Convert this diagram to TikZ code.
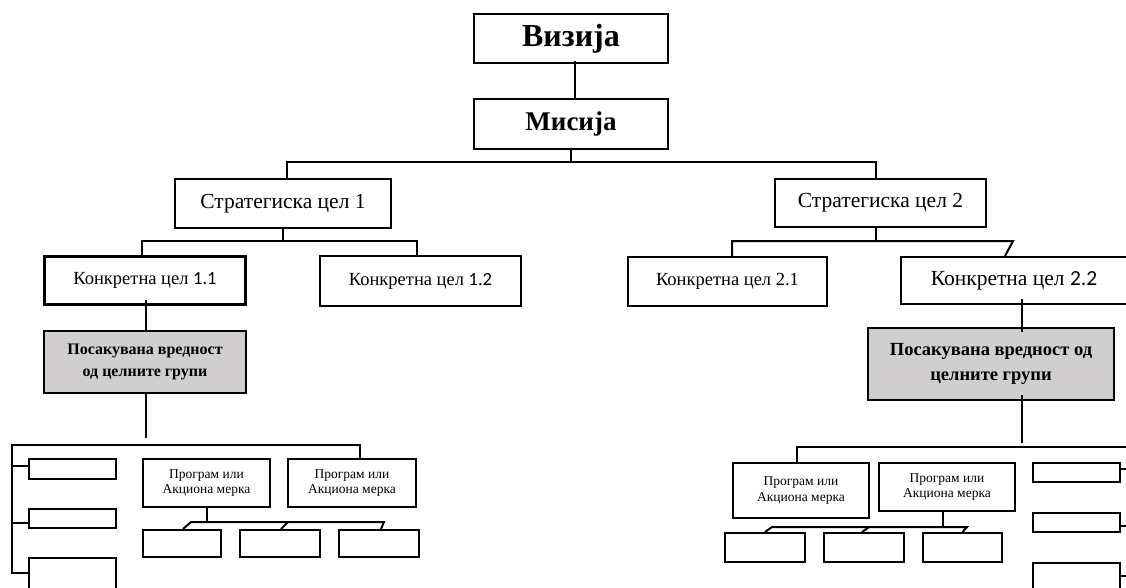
\documentclass[tikz,border=0pt]{standalone}
\usepackage{fontspec}
\setmainfont{Liberation Serif}
\newfontfamily\calfont{Carlito}
\usetikzlibrary{positioning}

\definecolor{valgray}{RGB}{208,206,206}

\tikzset{
  box/.style={draw, line width=2pt, inner sep=0pt, align=center},
  dims/.style 2 args={minimum width=#1pt, minimum height=#2pt},
  valbox/.style={box, fill=valgray},
  progbox/.style={box, font=\fontsize{13.5}{15.5}\selectfont},
  link/.style={line width=2pt},
}

\begin{document}
\begin{tikzpicture}[x=1pt, y=-1pt]
  \useasboundingbox (0,0) rectangle (1126,587);
  \clip (0,0) rectangle (1126,587);

  % Define nodes
  \node[box, dims={194}{49}, font=\bfseries\fontsize{32}{34}\selectfont] (vision) at (571,38.5) {Визија};
  \node[box, dims={194}{50}, font=\bfseries\fontsize{27}{29}\selectfont] (mission) at (571,124) {Мисија};

 % Strategic goals

	\node[box, dims={216}{49}, font=\fontsize{21.5}{24}\selectfont] (stratOne) at (283,203.5) {Стратегиска цел 1};
	\node[box, dims={211}{48}, font=\fontsize{21.5}{24}\selectfont] (stratTwo) at (880.5,203) {Стратегиска цел 2};

% Concrete goals

	\node[box, dims={201}{48}, line width=3.2pt, font=\fontsize{18.5}{20}\selectfont] (goalOneOne) at (145,280.5) {Конкретна цел {\calfont 1.1}};
	\node[box, dims={201}{50}, font=\fontsize{18.5}{20}\selectfont] (goalOneTwo) at (420.5,281) {Конкретна цел {\calfont 1.2}};
	\node[box, dims={199}{49}, font=\fontsize{18.5}{20}\selectfont] (goalTwoOne) at (727.5,281.5) {Конкретна цел 2.1};
	\node[box, dims={226}{47}, font=\fontsize{21.5}{24}\selectfont] (goalTwoTwo) at (1014,280.5) {Конкретна цел {\calfont 2.2}};

% Expected value for the target groups

	\node[valbox, dims={202}{62}, font=\bfseries\fontsize{16}{22}\selectfont] (valueOne) at (145,362) {Посакувана вредност\\од целните групи};
	\node[valbox, dims={246}{72}, font=\bfseries\fontsize{18.5}{25}\selectfont] (valueTwo) at (991,364) {Посакувана вредност од\\целните групи};

% Programs and measures, left

	\node[box, dims={87}{20}] (sideOneA) at (72.5,469) {};
	\node[box, dims={87}{19}] (sideOneB) at (72.5,518.5) {};
	\node[box, dims={87}{44}] (sideOneC) at (72.5,580) {};
	\node[progbox, dims={127}{48}] (progOneA) at (206.5,483) {Програм или\\Акциона мерка};
	\node[progbox, dims={128}{48}, right=16pt of progOneA] (progOneB) {Програм или\\Акциона мерка};
	\node[box, dims={78}{27}] (actOneA) at (182,543.5) {};
	\node[box, dims={80}{27}, right=17pt of actOneA] (actOneB) {};
	\node[box, dims={80}{27}, right=17pt of actOneB] (actOneC) {};

% Programs and measures, right

	\node[progbox, dims={136}{55}] (progTwoA) at (801,490.5) {Програм или\\Акциона мерка};
	\node[progbox, dims={136}{48}] (progTwoB) at (947,487) {Програм или\\Акциона мерка};
	\node[box, dims={80}{29}] (actTwoA) at (765,547.5) {};
	\node[box, dims={80}{29}, right=17pt of actTwoA] (actTwoB) {};
	\node[box, dims={79}{29}, right=17pt of actTwoB] (actTwoC) {};
	\node[box, dims={87}{19}] (sideTwoA) at (1076.5,472.5) {};
	\node[box, dims={87}{19}] (sideTwoB) at (1076.5,522.5) {};
	\node[box, dims={87}{44}] (sideTwoC) at (1076.5,585) {};

% Connectors

  \draw[link, line width=1.5pt] ([xshift=4pt, yshift=3pt]vision.south) -- ([xshift=4pt]mission.north);
  \draw[link] (mission.south) -- ++(0,12);
  \draw[link] ([xshift=4pt]stratOne.north) -- ++(0,-16) -| ([xshift=-4.5pt]stratTwo.north);

  \draw[link] (stratOne.south) -- ++(0,12);
  \draw[link] ([xshift=-3pt]goalOneOne.north) -- ++(0,-14) -| ([xshift=-3.5pt]goalOneTwo.north);
  \draw[link] ([xshift=-4.5pt]stratTwo.south) -- ++(0,13);
  \draw[link] ([xshift=4.5pt]goalTwoOne.north) -- ++(0,-15) -- ++(281,0) -- ([xshift=-9pt]goalTwoTwo.north);

  \draw[link] ([xshift=1pt, yshift=6pt]goalOneOne.south) -- (valueOne.north -| 146,0);
  \draw[link] ([xshift=1pt]valueOne.south) -- ++(0,44);
  \draw[link] ([xshift=8pt, yshift=6pt]goalTwoTwo.south) -- ++(0,33);
  \draw[link] ([xshift=31pt, yshift=6pt]valueTwo.south) -- ++(0,48);

  % left branch
  \draw[link] ([xshift=8pt]progOneB.north) -- ++(0,-13) -| ([xshift=-16pt, yshift=7pt]sideOneC.west) -- ([yshift=7pt]sideOneC.west);
  \draw[link] ([yshift=3pt]sideOneA.west) -- ++(-16,0);
  \draw[link] ([yshift=-4pt]sideOneB.west) -- ++(-16,0);
  \draw[link] (progOneA.south) -- ++(0,14);
  \draw[link] ([xshift=1pt]actOneA.north) -- ++(8,-7) -- ++(193,0) -- ([xshift=2pt]actOneC.north);
  \draw[link] ([xshift=1pt]actOneB.north) -- ++(7,-7);

  % right branch
  \draw[link] ([xshift=-4pt]progTwoA.north) -- ++(0,-15) -- ++(340,0);
  \draw[link] ([yshift=4pt]sideTwoA.east) -- ++(8,0);
  \draw[link] ([yshift=-3pt]sideTwoB.east) -- ++(8,0);
  \draw[link] ([yshift=9pt]sideTwoC.east) -- ++(8,0);
  \draw[link] ([xshift=-4pt]progTwoB.south) -- ++(0,15);
  \draw[link] (actTwoA.north) -- ++(7,-5) -- ++(195,0) -- (actTwoC.north);
  \draw[link] ([xshift=-2pt]actTwoB.north) -- ++(7,-5);

\end{tikzpicture}
\end{document}
